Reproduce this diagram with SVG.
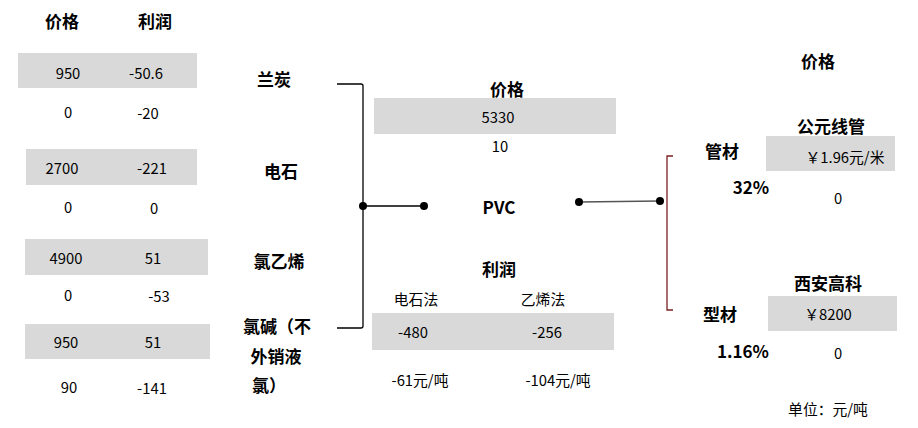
<svg xmlns="http://www.w3.org/2000/svg" width="918" height="428" viewBox="0 0 918 428">
<style>
text{font-family:"Noto Sans CJK SC","Noto Sans",sans-serif;fill:#000;text-anchor:middle;dominant-baseline:central}
.n{font-size:14.8px}
.b{font-size:17px;font-weight:700}
.box{fill:#d9d9d9}
.ln{stroke:#000;stroke-width:1.3;fill:none}
.rd{stroke:#7b2020;stroke-width:1.3;fill:none}
</style>
<rect width="918" height="428" fill="#fff"/>
<g id="left-table">
<text class="b" x="62" y="20">价格</text>
<text class="b" x="155" y="20">利润</text>
<rect class="box" x="18" y="53" width="179" height="35"/>
<text class="n" x="68" y="72">950</text>
<text class="n" x="146" y="72">-50.6</text>
<text class="n" x="68" y="111">0</text>
<text class="n" x="148" y="112">-20</text>
<rect class="box" x="26" y="149" width="171" height="36"/>
<text class="n" x="62" y="167">2700</text>
<text class="n" x="152" y="167">-221</text>
<text class="n" x="68" y="206">0</text>
<text class="n" x="154" y="207">0</text>
<rect class="box" x="25" y="239" width="183" height="36"/>
<text class="n" x="66" y="257">4900</text>
<text class="n" x="153" y="257">51</text>
<text class="n" x="68" y="294">0</text>
<text class="n" x="159" y="295">-53</text>
<rect class="box" x="25" y="324" width="185" height="35"/>
<text class="n" x="66" y="341">950</text>
<text class="n" x="153" y="341">51</text>
<text class="n" x="69" y="386">90</text>
<text class="n" x="152" y="387">-141</text>
</g>
<g id="raw-materials">
<text class="b" x="274" y="78">兰炭</text>
<text class="b" x="281" y="170">电石</text>
<text class="b" x="279" y="260">氯乙烯</text>
<text class="b" x="277" y="325">氯碱（不</text>
<text class="b" x="276" y="355">外销液</text>
<text class="b" x="269" y="384">氯）</text>
</g>
<g id="connectors">
<path class="ln" d="M337 84 L361 84 Q363 84 363 86 L363 326 Q363 328 361 328 L337 328"/>
<line class="ln" x1="363" y1="206" x2="424" y2="206"/>
<circle cx="363" cy="206" r="4"/>
<circle cx="424" cy="206" r="4"/>
<line x1="579" y1="202" x2="660" y2="201" stroke="#555" stroke-width="1.3"/>
<circle cx="579" cy="202" r="4"/>
<circle cx="660" cy="201" r="4"/>
<path class="rd" d="M673 156 L667 156 L667 310 L673 310"/>
</g>
<g id="pvc">
<text class="b" x="507" y="88">价格</text>
<rect class="box" x="374" y="98" width="242" height="36"/>
<text class="n" x="498" y="116">5330</text>
<text class="n" x="500" y="145">10</text>
<text class="b" x="499" y="206">PVC</text>
<text class="b" x="499" y="268">利润</text>
<text class="n" x="416" y="298">电石法</text>
<text class="n" x="543" y="298">乙烯法</text>
<rect class="box" x="372" y="313" width="242" height="37"/>
<text class="n" x="413" y="331">-480</text>
<text class="n" x="547" y="331">-256</text>
<text class="n" x="420" y="379">-61元/吨</text>
<text class="n" x="558" y="379">-104元/吨</text>
</g>
<g id="products">
<text class="b" x="818" y="60">价格</text>
<text class="b" x="831" y="125">公元线管</text>
<rect class="box" x="766" y="136" width="129" height="35"/>
<text class="n" x="845" y="156">￥1.96元/米</text>
<text class="b" x="722" y="150">管材</text>
<text class="b" x="751" y="186">32%</text>
<text class="n" x="838" y="197">0</text>
<text class="b" x="828" y="282">西安高科</text>
<rect class="box" x="768" y="296" width="129" height="35"/>
<text class="n" x="828" y="313">￥8200</text>
<text class="b" x="720" y="313">型材</text>
<text class="b" x="743" y="350">1.16%</text>
<text class="n" x="838" y="352">0</text>
<text class="n" x="828" y="408">单位：元/吨</text>
</g>
</svg>
